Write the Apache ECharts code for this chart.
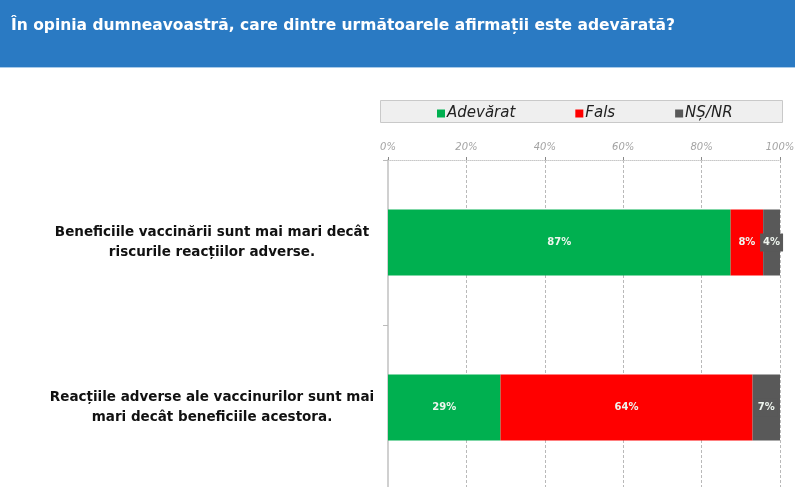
<!DOCTYPE html>
<html>
<head>
<meta charset="utf-8">
<script src="https://cdn.jsdelivr.net/npm/echarts@6/dist/echarts.min.js"></script>
<style>
  html, body { margin: 0; padding: 0; background: #fff; }
  #chart { width: 795px; height: 487px; }
</style>
</head>
<body>
<div id="chart"></div>
<script>
// date
var categories = [
  'Beneficiile vaccinării sunt mai mari decât\nriscurile reacțiilor adverse.',
  'Reacțiile adverse ale vaccinurilor sunt mai\nmari decât beneficiile acestora.'
];
var seriesNames = ['Adevărat', 'Fals', 'NȘ/NR'];
var adevarat = [87.4, 28.7];
var fals = [8.3, 64.3];
var nsnr = [4.3, 7.0];
var tickLabels = ['0%', '20%', '40%', '60%', '80%', '100%'];

var colors = ['#00b050', '#ff0000', '#595959'];
var font = 'DejaVu Sans';

var labelStyle = {
  show: true,
  position: 'inside',
  color: '#eef5ee',
  fontFamily: font,
  fontWeight: 'bold',
  fontSize: 10,
  formatter: function (p) { return Math.round(p.value) + '%'; }
};

function makeSeries(name, data, color, extraLabel) {
  return {
    name: name,
    type: 'bar',
    stack: 'total',
    barWidth: '40%',
    data: data,
    itemStyle: { color: color },
    label: Object.assign({}, labelStyle, extraLabel || {})
  };
}

var myChart = echarts.init(document.getElementById('chart'));
myChart.setOption({
  backgroundColor: '#fff',
  animation: false,
  title: {
    text: 'În opinia dumneavoastră, care dintre următoarele afirmații este adevărată?',
    left: 6,
    top: 13,
    textStyle: { color: '#fff', fontFamily: font, fontSize: 15.5, fontWeight: 'bold' }
  },
  graphic: [
    { type: 'rect', z: -10, shape: { x: 0, y: 0, width: 795, height: 67 }, style: { fill: '#2a7ac3' } },
    { type: 'rect', z: -10, shape: { x: 0, y: 67, width: 795, height: 1 }, style: { fill: '#a9cbe9' } },
    { type: 'rect', z: -10, shape: { x: 380.5, y: 100.5, width: 402, height: 22 }, style: { fill: '#efefef', stroke: '#c9c9c9', lineWidth: 1 } }
  ],
  legend: {
    data: seriesNames,
    left: 432,
    top: 101,
    itemWidth: 8,
    itemHeight: 8,
    itemGap: 60,
    icon: 'rect',
    textStyle: { color: '#222', fontFamily: font, fontStyle: 'italic', fontSize: 15, padding: [0, 0, 0, -3] }
  },
  grid: {
    left: 388,
    top: 160,
    width: 392,
    height: 330,
    containLabel: false,
    outerBoundsMode: 'none'
  },
  xAxis: {
    type: 'value',
    position: 'top',
    min: 0,
    max: 100,
    interval: 20,
    axisLine: { show: true, lineStyle: { color: '#c8c8c8', type: 'dotted' } },
    axisTick: { show: true, length: 3, lineStyle: { color: '#888' } },
    axisLabel: {
      color: '#a3a3a3',
      fontFamily: font,
      fontStyle: 'italic',
      fontSize: 10,
      margin: 8,
      formatter: function (v) { return tickLabels[v / 20]; }
    },
    splitLine: { show: true, lineStyle: { color: '#b9b9b9', type: [3, 2] } }
  },
  yAxis: {
    type: 'category',
    inverse: true,
    data: categories,
    axisLine: { show: true, lineStyle: { color: '#d0d0d0', width: 2 } },
    axisTick: { show: true, length: 5, lineStyle: { color: '#bbb' } },
    axisLabel: {
      color: '#111',
      fontFamily: font,
      fontWeight: 'bold',
      fontSize: 13.5,
      lineHeight: 20,
      align: 'center',
      margin: 176
    }
  },
  series: [
    makeSeries(seriesNames[0], adevarat, colors[0]),
    makeSeries(seriesNames[1], fals, colors[1]),
    makeSeries(seriesNames[2], nsnr, colors[2], { backgroundColor: '#595959', padding: [4, 3] })
  ]
});
</script>
</body>
</html>
